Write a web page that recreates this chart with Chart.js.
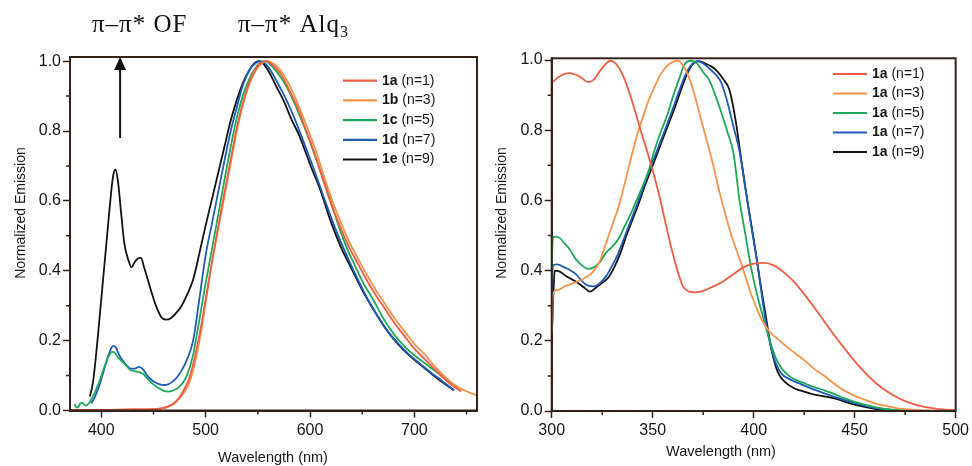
<!DOCTYPE html>
<html><head><meta charset="utf-8">
<script src="https://cdn.jsdelivr.net/npm/chart.js@4/dist/chart.umd.min.js"></script>
<style>
html,body{margin:0;padding:0;background:#fff;width:972px;height:466px;overflow:hidden;}
#w1{position:absolute;left:0;top:0;width:490px;height:466px;}
#w2{position:absolute;left:490px;top:0;width:482px;height:466px;}
</style></head><body>
<div id="w1"><canvas id="c1"></canvas></div>
<div id="w2"><canvas id="c2"></canvas></div>
<script>
// ---------- labels / ticks / colours ----------
const leftLabels  = ['1a (n=1)', '1b (n=3)', '1c (n=5)', '1d (n=7)', '1e (n=9)'];
const rightLabels = ['1a (n=1)', '1a (n=3)', '1a (n=5)', '1a (n=7)', '1a (n=9)'];
const seriesColors = ['#ef5b43', '#f7924a', '#1ea85a', '#1f5bb8', '#121212'];
const yTicks = [0, 0.2, 0.4, 0.6, 0.8, 1.0];
const yMinorTicks = [0.1, 0.3, 0.5, 0.7, 0.9];
const leftXTicks = [400, 500, 600, 700];
const leftMinorX = [450, 550, 650, 750];
const rightXTicks = [300, 350, 400, 450, 500];
const rightMinorX = [325, 375, 425, 475];
const xTitleText = 'Wavelength (nm)';
const yTitleText = 'Normalized Emission';
const annotTexts = ['π–π* OF', 'π–π* Alq', '3'];
const arrowWavelength = 418, arrowFrom = 0.78, arrowTo = 1.012;

// ---------- left panel data ----------
const L1a_nm  = [370,400,430,450,458,464,469,474,479,484,489,494,499,504,509,514,519,525,531,537,543,549,554,558,563,569,575,582,589,597,605,613,621,629,637,645,654,663,672,681,690,699,709,719,729,737,745];
const L1a_val = [0.002,0.002,0.003,0.004,0.007,0.012,0.02,0.034,0.058,0.09,0.145,0.215,0.3,0.39,0.475,0.56,0.64,0.735,0.825,0.895,0.948,0.983,0.997,1.0,0.992,0.975,0.948,0.905,0.86,0.795,0.73,0.655,0.585,0.525,0.47,0.425,0.375,0.33,0.29,0.25,0.215,0.18,0.15,0.12,0.09,0.07,0.055];
const L1b_nm  = [370,400,430,450,460,465,470,475,480,485,490,495,500,505,510,515,520,526,532,538,544,550,555,559,564,570,576,583,590,598,606,614,622,630,638,646,655,664,673,682,691,700,710,720,730,740,750,759];
const L1b_val = [0.002,0.002,0.003,0.004,0.006,0.012,0.02,0.035,0.055,0.085,0.14,0.215,0.31,0.405,0.49,0.565,0.645,0.74,0.83,0.9,0.95,0.982,0.996,1.0,0.995,0.98,0.955,0.915,0.865,0.805,0.74,0.665,0.595,0.535,0.48,0.435,0.385,0.34,0.3,0.26,0.225,0.19,0.16,0.125,0.095,0.07,0.055,0.044];
const L1c_nm  = [374,377,380,382,385,388,391,395,399,403,407,410.5,413,416,420,424,428,432,436,440,444,448,452,456,460,464,468,472,477,482,488,494,500,506,512,518,524,530,536,542,548,553,557,562,568,575,582,590,598,607,616,625,634,643,652,661,670,680,690,700,710,720,730,741];
const L1c_val = [0.018,0.008,0.02,0.022,0.014,0.02,0.035,0.06,0.09,0.125,0.155,0.168,0.165,0.152,0.14,0.128,0.116,0.113,0.11,0.105,0.092,0.08,0.07,0.062,0.056,0.054,0.056,0.062,0.075,0.1,0.16,0.26,0.365,0.462,0.56,0.66,0.755,0.84,0.905,0.95,0.982,0.997,1.0,0.99,0.97,0.94,0.9,0.845,0.785,0.71,0.635,0.55,0.475,0.415,0.36,0.315,0.265,0.22,0.185,0.158,0.135,0.113,0.09,0.068];
const L1d_nm  = [390.5,394,398,402,406,409,411.5,414,417,420,424,428,432,436,440,444,448,452,456,460,464,468,472,477,482,488,494,500,506,512,518,524,530,536,542,548,553,558,564,571,578,586,595,605,615,625,635,645,655,665,675,685,695,705,715,725,738];
const L1d_val = [0.02,0.04,0.07,0.11,0.15,0.175,0.185,0.18,0.16,0.145,0.13,0.12,0.12,0.125,0.118,0.10,0.088,0.08,0.075,0.073,0.075,0.082,0.093,0.115,0.145,0.2,0.32,0.445,0.535,0.625,0.715,0.8,0.87,0.935,0.975,0.995,1.0,0.99,0.965,0.926,0.885,0.83,0.76,0.68,0.595,0.515,0.445,0.38,0.32,0.27,0.225,0.19,0.16,0.135,0.11,0.088,0.058];
const L1e_nm  = [389,392,396,400,404,408,411,413.5,416,419,422,426,429,432,435,438,441,445,449,453,458,462,467,472,477,482,488,494,500,506,512,518,524,530,536,542,547,551,556,562,568,575,582,590,600,610,620,630,640,650,661,670,680,690,700,712,725,738];
const L1e_val = [0.04,0.08,0.19,0.32,0.45,0.58,0.665,0.69,0.655,0.565,0.48,0.43,0.41,0.425,0.435,0.437,0.41,0.37,0.33,0.295,0.265,0.26,0.265,0.28,0.3,0.33,0.375,0.45,0.53,0.605,0.68,0.755,0.83,0.89,0.94,0.975,0.995,1.0,0.99,0.962,0.926,0.885,0.835,0.785,0.705,0.63,0.54,0.465,0.405,0.345,0.288,0.245,0.205,0.172,0.145,0.116,0.085,0.058];

// ---------- right panel data ----------
const R1_nm  = [300,303,306,309,312,315,318,321,324,327,329,332,335,338,341,344,347,350,353,356,359,362,365,368,371,375,380,385,390,395,400,405,410,415,420,425,430,435,440,445,450,455,460,465,470,475,480,485,490,495,500];
const R1_val = [0.935,0.95,0.96,0.963,0.958,0.948,0.937,0.945,0.97,0.99,0.998,0.988,0.96,0.915,0.86,0.80,0.745,0.685,0.62,0.545,0.47,0.405,0.355,0.34,0.338,0.342,0.355,0.37,0.39,0.41,0.42,0.422,0.415,0.395,0.368,0.333,0.295,0.255,0.215,0.178,0.142,0.11,0.082,0.06,0.042,0.028,0.018,0.011,0.007,0.004,0.003];
const R3_nm  = [300,300.7,303,306,310,314,318,321,324,327,330,333,336,339,342,345,348,351,354,357,360,362.5,365,368,371,374,377,380,383,386,389,392,395,398,401,404,408,412,416,420,425,430,435,440,445,450,455,460,465,470,475,480,490,500];
const R3_val = [0.22,0.335,0.345,0.354,0.363,0.372,0.385,0.40,0.43,0.48,0.53,0.58,0.645,0.715,0.78,0.835,0.885,0.925,0.96,0.983,0.995,0.998,0.985,0.95,0.895,0.83,0.765,0.7,0.625,0.56,0.5,0.45,0.4,0.345,0.3,0.26,0.225,0.205,0.185,0.167,0.145,0.12,0.1,0.077,0.058,0.043,0.032,0.022,0.015,0.009,0.005,0.003,0.001,0.0];
const R5_nm  = [300,300.6,302,304,306,309,312,315,318,321,324,327,330,333,336,339,342,345,348,351,354,357,360,363,366,369,372,375,378,381,384,387,390,393,396,399,402,405,408,411,414,418,422,426,430,435,440,445,450,455,460,465,470,480,490,500];
const R5_val = [0.40,0.495,0.497,0.493,0.48,0.46,0.432,0.415,0.405,0.41,0.425,0.452,0.468,0.49,0.525,0.56,0.6,0.64,0.685,0.745,0.795,0.84,0.895,0.945,0.99,0.998,0.99,0.965,0.943,0.9,0.85,0.795,0.735,0.6,0.5,0.4,0.325,0.26,0.2,0.15,0.12,0.098,0.086,0.077,0.068,0.059,0.048,0.036,0.026,0.018,0.011,0.006,0.003,0.001,0.0,0.0];
const R7_nm  = [300,300.6,303,306,309,312,315,318,321,324,327,330,333,336,339,342,345,348,351,354,357,360,363,366,369,372,375,378,381,384,387,390,393,396,399,402,405,408,411,414,418,422,426,430,435,440,445,450,455,460,465,470,480,500];
const R7_val = [0.30,0.415,0.418,0.41,0.402,0.39,0.37,0.357,0.355,0.365,0.385,0.415,0.45,0.495,0.54,0.585,0.632,0.68,0.725,0.77,0.815,0.862,0.91,0.955,0.985,0.997,0.99,0.976,0.96,0.935,0.88,0.81,0.74,0.63,0.52,0.415,0.29,0.195,0.135,0.105,0.09,0.08,0.07,0.061,0.05,0.04,0.031,0.023,0.015,0.009,0.005,0.002,0.001,0.0];
const R9_nm  = [300,300.8,301.5,304,307,310,313,316,319,322,325,328,331,334,337,340,343,346,349,352,355,358,361,364,367,370,373,376,379,382,385,388,391,394,397,400,403,406,409,412,416,420,425,430,435,440,445,450,455,460,465,470,480,500];
const R9_val = [0.2,0.33,0.40,0.397,0.385,0.375,0.365,0.352,0.34,0.352,0.365,0.38,0.41,0.45,0.5,0.545,0.59,0.64,0.685,0.73,0.775,0.82,0.865,0.915,0.96,0.99,0.997,0.99,0.982,0.968,0.945,0.915,0.83,0.71,0.595,0.49,0.375,0.27,0.17,0.11,0.08,0.065,0.055,0.047,0.042,0.036,0.027,0.018,0.012,0.006,0.003,0.001,0.0,0.0];

// ---------- styling ----------
const axisColor = '#33221a';
const textColor = '#161616';
const SANS = '"Liberation Sans", Arial, Helvetica, sans-serif';
const SERIF = '"Liberation Serif", "Times New Roman", serif';

function toPts(nm, val) { return nm.map((x, i) => ({x: x, y: val[i]})); }
function makeDatasets(labels, pairs) {
  return labels.map((lab, i) => ({
    label: lab,
    data: toPts(pairs[i][0], pairs[i][1]),
    borderColor: seriesColors[i],
    backgroundColor: seriesColors[i],
    borderWidth: 1.8,
    pointRadius: 0,
    fill: false,
    cubicInterpolationMode: 'monotone'
  }));
}

// frame + minor ticks
const framePlugin = {
  id: 'frameTicks',
  afterDraw(chart, args, o) {
    const ctx = chart.ctx, a = chart.chartArea;
    const xs = chart.scales.x, ys = chart.scales.y;
    ctx.save();
    ctx.strokeStyle = axisColor;
    ctx.lineWidth = 1.5;
    ctx.beginPath();
    (o.minorX || []).forEach(v => { const p = xs.getPixelForValue(v); ctx.moveTo(p, a.bottom); ctx.lineTo(p, a.bottom + o.len); });
    (o.minorY || []).forEach(v => { const p = ys.getPixelForValue(v); ctx.moveTo(a.left, p); ctx.lineTo(a.left - o.len, p); });
    ctx.stroke();
    ctx.lineWidth = 2;
    ctx.strokeRect(a.left, a.top, a.right - a.left, a.bottom - a.top);
    ctx.restore();
  }
};

// legend drawn inside the plot, label prefix in bold
const legendPlugin = {
  id: 'inlineLegend',
  afterDraw(chart, args, o) {
    const ctx = chart.ctx;
    ctx.save();
    ctx.textBaseline = 'middle';
    chart.data.datasets.forEach((ds, i) => {
      const y = o.y + i * o.gap;
      ctx.strokeStyle = ds.borderColor;
      ctx.lineWidth = 2.2;
      ctx.beginPath(); ctx.moveTo(o.x, y); ctx.lineTo(o.x + o.len, y); ctx.stroke();
      const sp = ds.label.indexOf(' ');
      const bold = ds.label.slice(0, sp), rest = ds.label.slice(sp);
      ctx.fillStyle = textColor;
      ctx.font = 'bold 14px ' + SANS;
      ctx.fillText(bold, o.x + o.len + 5, y);
      const w = ctx.measureText(bold).width;
      ctx.font = '14px ' + SANS;
      ctx.fillText(rest, o.x + o.len + 5 + w, y);
    });
    ctx.restore();
  }
};

// annotation texts and arrow (left panel)
const annotPlugin = {
  id: 'annot',
  afterDraw(chart, args, o) {
    if (!o.enabled) return;
    const ctx = chart.ctx;
    ctx.save();
    ctx.fillStyle = '#111';
    ctx.textBaseline = 'alphabetic';
    try { ctx.letterSpacing = '1px'; } catch (e) {}
    ctx.font = '25px ' + SERIF;
    ctx.fillText(annotTexts[0], 92, 31.5);
    ctx.fillText(annotTexts[1], 238, 31.5);
    const w = ctx.measureText(annotTexts[1]).width;
    ctx.font = '16px ' + SERIF;
    ctx.fillText(annotTexts[2], 238 + w, 36.5);
    try { ctx.letterSpacing = '0px'; } catch (e) {}
    const ax = chart.scales.x.getPixelForValue(arrowWavelength);
    const y0 = chart.scales.y.getPixelForValue(arrowFrom);
    const y1 = chart.scales.y.getPixelForValue(arrowTo);
    ctx.strokeStyle = '#111';
    ctx.lineWidth = 2;
    ctx.beginPath(); ctx.moveTo(ax, y0); ctx.lineTo(ax, y1 + 12); ctx.stroke();
    ctx.beginPath(); ctx.moveTo(ax, y1); ctx.lineTo(ax - 6, y1 + 13); ctx.lineTo(ax + 6, y1 + 13); ctx.closePath(); ctx.fill();
    ctx.restore();
  }
};

// axis titles placed freely
const titlesPlugin = {
  id: 'axisTitles',
  afterDraw(chart, args, o) {
    const ctx = chart.ctx;
    ctx.save();
    ctx.fillStyle = textColor;
    ctx.textAlign = 'center';
    ctx.textBaseline = 'middle';
    ctx.font = '14.5px ' + SANS;
    ctx.fillText(xTitleText, o.xcx, o.xcy);
    ctx.translate(o.ycx, o.ycy);
    ctx.rotate(-Math.PI / 2);
    ctx.font = '14px ' + SANS;
    ctx.fillText(yTitleText, 0, 0);
    ctx.restore();
  }
};

function axisCommon() {
  return {
    grid: { display: true, drawOnChartArea: false, drawTicks: true, tickLength: 7, tickColor: axisColor, tickWidth: 1.5 },
    border: { display: true, color: axisColor, width: 2 }
  };
}

function makeConfig(p) {
  return {
    type: 'line',
    data: { datasets: p.datasets },
    options: {
      responsive: true, maintainAspectRatio: false, animation: false, devicePixelRatio: 1,
      layout: { padding: { left: 0, right: p.padRight, top: p.padTop, bottom: 0 } },
      plugins: {
        legend: { display: false }, tooltip: { enabled: false }, title: { display: false },
        frameTicks: { minorX: p.minorX, minorY: yMinorTicks, len: 4 },
        inlineLegend: p.legend,
        annot: { enabled: p.annot },
        axisTitles: p.titles
      },
      scales: {
        x: Object.assign(axisCommon(), {
          type: 'linear', min: p.xmin, max: p.xmax,
          afterBuildTicks: s => { s.ticks = p.xTicks.map(v => ({ value: v })); },
          ticks: { autoSkip: false, maxRotation: 0, color: textColor, font: { family: SANS, size: 16 }, padding: 3, callback: v => String(v) },
          title: { display: false },
          afterFit: s => { s.height = p.xHeight; }
        }),
        y: Object.assign(axisCommon(), {
          type: 'linear', min: 0, max: p.ymax,
          afterBuildTicks: s => { s.ticks = yTicks.map(v => ({ value: v })); },
          ticks: { autoSkip: false, color: textColor, font: { family: SANS, size: 16 }, padding: 2, callback: v => Number(v).toFixed(1) },
          title: { display: false },
          afterFit: s => { s.width = p.yWidth; }
        })
      }
    },
    plugins: [framePlugin, legendPlugin, annotPlugin, titlesPlugin]
  };
}

new Chart(document.getElementById('c1'), makeConfig({
  datasets: makeDatasets(leftLabels, [[L1a_nm, L1a_val], [L1b_nm, L1b_val], [L1c_nm, L1c_val], [L1d_nm, L1d_val], [L1e_nm, L1e_val]]),
  xmin: 370, xmax: 760, xTicks: leftXTicks, ymax: 1.012, minorX: leftMinorX,
  padRight: 13, padTop: 57, xHeight: 55.5, yWidth: 70,
  legend: { x: 343, y: 80.7, gap: 19.7, len: 34 },
  titles: { xcx: 273, xcy: 458, ycx: 21, ycy: 213 },
  annot: true
}));

new Chart(document.getElementById('c2'), makeConfig({
  datasets: makeDatasets(rightLabels, [[R1_nm, R1_val], [R3_nm, R3_val], [R5_nm, R5_val], [R7_nm, R7_val], [R9_nm, R9_val]]),
  xmin: 300, xmax: 500, xTicks: rightXTicks, ymax: 1.005, minorX: rightMinorX,
  padRight: 15, padTop: 58.3, xHeight: 55, yWidth: 61.7,
  legend: { x: 343, y: 74, gap: 19.5, len: 34 },
  titles: { xcx: 231, xcy: 452, ycx: 11.7, ycy: 213 },
  annot: false
}));
</script>
</body></html>
